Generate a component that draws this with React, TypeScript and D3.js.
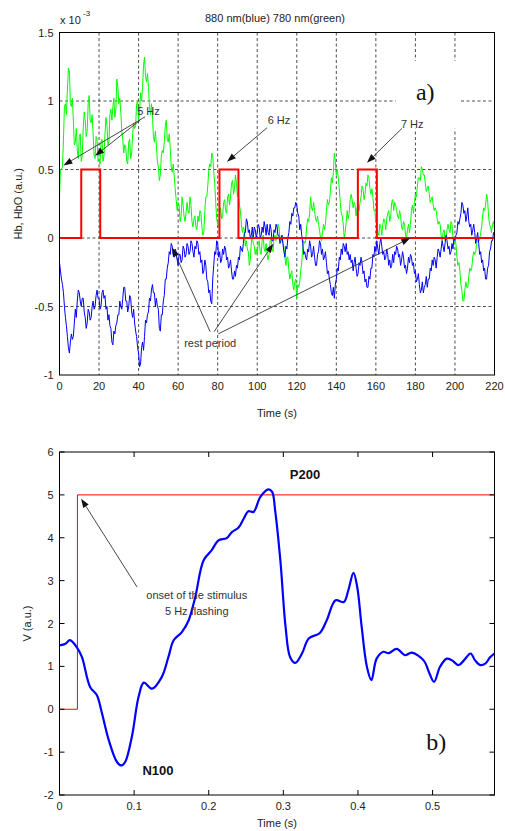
import React from "react";
import * as d3 from "d3";

const W = 505;
const H = 831;

// ---- panel a) NIRS traces, 2 samples per second, values x 1e-3 ----
const timeTicks = [0, 20, 40, 60, 80, 100, 120, 140, 160, 180, 200, 220];
const hbTicks = [-1, -0.5, 0, 0.5, 1, 1.5];
const sampleStep = 0.5; // s
const stimBlocks = [
  [11, 20.6],
  [80.9, 90.5],
  [150.9, 160.5],
];
const stimLevel = 0.5;

// 780 nm (green), one row = 10 s
const green780 = [
  0.30, 0.50, 0.50, 0.52, 0.72, 0.96, 0.98, 0.90, 1.08, 1.24, 1.22, 0.98, 0.96, 1.02, 0.86, 0.68, 0.70, 0.80, 0.64, 0.58,
  0.74, 0.76, 0.56, 0.60, 0.80, 0.92, 0.86, 0.74, 0.78, 0.98, 1.04, 0.86, 0.84, 0.90, 0.76, 0.60, 0.58, 0.74, 0.72, 0.56,
  0.58, 0.54, 0.70, 0.72, 0.56, 0.60, 0.76, 0.88, 0.82, 0.68, 0.70, 0.90, 0.94, 0.86, 0.96, 1.02, 0.88, 0.94, 1.16, 1.10,
  0.98, 1.02, 0.92, 0.78, 0.72, 0.62, 0.68, 0.66, 0.56, 0.54, 0.70, 0.72, 0.58, 0.62, 0.76, 0.84, 0.80, 0.82, 0.98, 1.00,
  0.86, 0.92, 1.06, 1.00, 1.10, 1.26, 1.32, 1.18, 1.14, 1.20, 1.10, 0.96, 0.90, 0.98, 0.90, 0.74, 0.70, 0.78, 0.68, 0.56,
  0.52, 0.42, 0.46, 0.60, 0.64, 0.62, 0.70, 0.82, 0.86, 0.72, 0.70, 0.76, 0.66, 0.52, 0.48, 0.54, 0.46, 0.36, 0.28, 0.20,
  0.26, 0.24, 0.12, 0.16, 0.30, 0.24, 0.16, 0.12, 0.18, 0.26, 0.20, 0.18, 0.30, 0.24, 0.12, 0.08, 0.14, 0.16, 0.08, 0.06,
  0.16, 0.12, 0.20, 0.18, 0.08, 0.02, 0.04, 0.20, 0.30, 0.30, 0.38, 0.50, 0.54, 0.52, 0.62, 0.60, 0.48, 0.40, 0.26, 0.14,
  0.10, 0.08, 0.18, 0.22, 0.14, 0.16, 0.26, 0.28, 0.20, 0.18, 0.30, 0.32, 0.24, 0.30, 0.40, 0.42, 0.32, 0.36, 0.46, 0.40,
  0.30, 0.32, 0.24, 0.20, 0.10, 0.04, 0.08, 0.06, -0.06, -0.02, -0.08, -0.10, -0.20, -0.16, -0.04, 0.02, -0.04, -0.06, -0.12, -0.08,
  -0.12, -0.04, -0.02, -0.10, -0.12, -0.02, 0.02, -0.08, -0.10, -0.04, -0.12, -0.16, -0.12, -0.02, 0.00, -0.08, -0.10, 0.00, 0.02, -0.02,
  0.02, 0.10, 0.08, 0.00, -0.02, 0.02, -0.04, -0.06, -0.14, -0.20, -0.14, -0.14, -0.24, -0.30, -0.26, -0.24, -0.34, -0.38, -0.32, -0.30,
  -0.44, -0.34, -0.36, -0.32, -0.24, -0.18, -0.08, -0.02, -0.04, -0.02, 0.08, 0.14, 0.12, 0.18, 0.30, 0.22, 0.20, 0.26, 0.20, 0.14,
  0.12, 0.16, 0.10, 0.06, 0.00, -0.02, 0.04, 0.10, 0.06, 0.10, 0.20, 0.28, 0.24, 0.26, 0.34, 0.44, 0.40, 0.48, 0.62, 0.56,
  0.46, 0.50, 0.44, 0.36, 0.26, 0.18, 0.16, 0.10, 0.00, 0.04, 0.12, 0.20, 0.14, 0.18, 0.28, 0.32, 0.28, 0.22, 0.26, 0.24,
  0.16, 0.22, 0.24, 0.20, 0.26, 0.30, 0.38, 0.36, 0.28, 0.32, 0.40, 0.38, 0.46, 0.44, 0.36, 0.32, 0.36, 0.30, 0.20, 0.20,
  0.12, 0.10, 0.04, 0.02, 0.10, 0.08, 0.02, 0.10, 0.14, 0.12, 0.06, 0.14, 0.18, 0.20, 0.12, 0.16, 0.26, 0.28, 0.20, 0.26,
  0.24, 0.20, 0.16, 0.14, 0.20, 0.16, 0.08, 0.06, 0.12, 0.10, 0.02, 0.00, 0.06, 0.10, 0.04, 0.10, 0.20, 0.24, 0.18, 0.26,
  0.32, 0.30, 0.38, 0.44, 0.44, 0.42, 0.52, 0.50, 0.46, 0.46, 0.40, 0.34, 0.36, 0.38, 0.32, 0.26, 0.28, 0.30, 0.24, 0.20,
  0.22, 0.20, 0.14, 0.10, 0.12, 0.10, 0.02, -0.02, 0.04, 0.06, -0.02, 0.00, 0.06, 0.10, 0.06, 0.04, 0.12, 0.10, 0.00, -0.04,
  -0.02, -0.04, -0.14, -0.20, -0.18, -0.24, -0.34, -0.38, -0.46, -0.46, -0.38, -0.32, -0.36, -0.36, -0.28, -0.22, -0.24, -0.22, -0.14, -0.10,
  -0.12, -0.10, -0.04, 0.00, 0.00, -0.02, 0.04, 0.08, 0.16, 0.22, 0.20, 0.24, 0.32, 0.28, 0.16, 0.10, 0.08, 0.04, 0.10, 0.12,
  0.06,
];

// 880 nm (blue), one row = 10 s
const blue880 = [
  -0.18, -0.24, -0.30, -0.34, -0.40, -0.50, -0.58, -0.64, -0.72, -0.80, -0.84, -0.76, -0.70, -0.74, -0.72, -0.62, -0.52, -0.58, -0.46, -0.38,
  -0.40, -0.46, -0.50, -0.44, -0.44, -0.54, -0.58, -0.66, -0.62, -0.52, -0.54, -0.60, -0.58, -0.50, -0.46, -0.52, -0.50, -0.42, -0.38, -0.44,
  -0.44, -0.52, -0.50, -0.40, -0.38, -0.44, -0.42, -0.52, -0.50, -0.60, -0.56, -0.64, -0.66, -0.76, -0.78, -0.68, -0.70, -0.64, -0.62, -0.56,
  -0.56, -0.46, -0.50, -0.52, -0.44, -0.36, -0.36, -0.46, -0.46, -0.54, -0.50, -0.42, -0.44, -0.54, -0.58, -0.52, -0.62, -0.68, -0.72, -0.80,
  -0.84, -0.94, -0.92, -0.80, -0.76, -0.82, -0.72, -0.60, -0.62, -0.56, -0.54, -0.44, -0.46, -0.38, -0.34, -0.40, -0.40, -0.50, -0.44, -0.50,
  -0.52, -0.66, -0.68, -0.56, -0.56, -0.46, -0.42, -0.30, -0.30, -0.22, -0.18, -0.10, -0.12, -0.04, -0.06, -0.12, -0.14, -0.08, -0.10, -0.16,
  -0.20, -0.12, -0.12, -0.18, -0.16, -0.06, -0.08, -0.14, -0.12, -0.04, -0.06, -0.12, -0.10, -0.02, -0.04, -0.10, -0.14, -0.06, -0.08, -0.02,
  -0.04, -0.12, -0.10, -0.18, -0.16, -0.26, -0.24, -0.16, -0.20, -0.30, -0.32, -0.40, -0.38, -0.46, -0.48, -0.30, -0.20, -0.10, -0.12, -0.02,
  -0.04, -0.14, -0.10, -0.18, -0.16, -0.08, -0.12, -0.06, -0.08, -0.16, -0.14, -0.22, -0.20, -0.16, -0.24, -0.30, -0.30, -0.24, -0.28, -0.20,
  -0.22, -0.14, -0.16, -0.06, -0.08, -0.10, -0.04, 0.04, 0.04, 0.14, 0.12, 0.04, 0.06, 0.00, 0.02, 0.08, 0.00, 0.08, 0.06, 0.00,
  0.04, 0.10, 0.08, 0.00, 0.02, 0.08, 0.04, 0.12, 0.08, 0.02, 0.10, 0.04, 0.02, 0.10, 0.06, -0.02, -0.02, 0.06, 0.04, 0.10,
  0.08, 0.02, 0.02, -0.04, -0.02, 0.02, -0.04, -0.10, -0.14, -0.06, -0.08, 0.00, 0.04, 0.12, 0.10, 0.18, 0.16, 0.22, 0.22, 0.26,
  0.24, 0.18, 0.16, 0.06, 0.10, 0.02, -0.04, -0.12, -0.10, -0.14, -0.16, -0.08, -0.10, -0.02, -0.06, -0.14, -0.12, -0.06, -0.14, -0.20,
  -0.20, -0.12, -0.10, -0.02, -0.04, -0.12, -0.08, -0.16, -0.14, -0.10, -0.18, -0.26, -0.24, -0.30, -0.34, -0.40, -0.42, -0.36, -0.44, -0.34,
  -0.30, -0.22, -0.24, -0.14, -0.16, -0.08, -0.12, -0.04, -0.06, -0.10, -0.04, -0.12, -0.10, -0.16, -0.12, -0.18, -0.16, -0.24, -0.18, -0.14,
  -0.22, -0.28, -0.26, -0.18, -0.20, -0.14, -0.18, -0.26, -0.24, -0.32, -0.30, -0.36, -0.36, -0.28, -0.30, -0.22, -0.22, -0.12, -0.14, -0.06,
  -0.10, -0.02, -0.08, -0.12, -0.04, 0.00, -0.06, -0.12, -0.10, -0.16, -0.14, -0.08, -0.12, -0.20, -0.16, -0.22, -0.20, -0.12, -0.18, -0.10,
  -0.12, -0.06, -0.08, -0.14, -0.12, -0.20, -0.16, -0.10, -0.14, -0.22, -0.20, -0.26, -0.22, -0.14, -0.18, -0.12, -0.14, -0.20, -0.18, -0.26,
  -0.24, -0.32, -0.30, -0.26, -0.34, -0.40, -0.38, -0.32, -0.40, -0.36, -0.34, -0.28, -0.36, -0.30, -0.30, -0.22, -0.24, -0.16, -0.20, -0.14,
  -0.16, -0.22, -0.14, -0.08, -0.10, -0.14, -0.08, -0.02, -0.06, -0.10, -0.04, 0.02, -0.02, -0.08, -0.06, -0.12, -0.10, -0.04, -0.08, 0.00,
  -0.02, 0.02, 0.04, 0.12, 0.10, 0.14, 0.18, 0.26, 0.24, 0.18, 0.20, 0.12, 0.16, 0.22, 0.12, 0.08, 0.10, 0.02, 0.06, 0.10,
  0.04, -0.04, 0.00, 0.04, -0.04, -0.12, -0.10, -0.18, -0.16, -0.24, -0.22, -0.30, -0.30, -0.22, -0.20, -0.10, -0.08, -0.02, -0.02, 0.04,
  0.02,
];

// ---- panel b) ERP ----
const erpTicksX = [0, 0.1, 0.2, 0.3, 0.4, 0.5];
const erpTicksY = [-2, -1, 0, 1, 2, 3, 4, 5, 6];
const erpT = [
  0, 0.008, 0.014, 0.023, 0.030, 0.041, 0.050, 0.057, 0.066, 0.077,
  0.083, 0.088, 0.097, 0.106, 0.113, 0.124, 0.137, 0.146, 0.153, 0.164,
  0.173, 0.182, 0.193, 0.204, 0.213, 0.224, 0.231, 0.240, 0.247, 0.253,
  0.260, 0.269, 0.280, 0.285, 0.289, 0.296, 0.303, 0.309, 0.316, 0.325,
  0.334, 0.349, 0.358, 0.370, 0.381, 0.387, 0.394, 0.399, 0.405, 0.412,
  0.418, 0.425, 0.434, 0.441, 0.452, 0.463, 0.472, 0.488, 0.496, 0.502,
  0.510, 0.519, 0.526, 0.535, 0.542, 0.551, 0.557, 0.564, 0.571, 0.577,
  0.583,
];
const erpV = [
  1.49, 1.53, 1.61, 1.45, 1.22, 0.52, 0.33, -0.10, -0.72, -1.23,
  -1.31, -1.23, -0.64, 0.29, 0.62, 0.48, 0.75, 1.22, 1.61, 1.80,
  2.07, 2.62, 3.47, 3.71, 3.94, 3.99, 4.13, 4.24, 4.45, 4.62,
  4.60, 4.95, 5.13, 5.07, 4.64, 3.47, 1.92, 1.22, 1.08, 1.30,
  1.65, 1.78, 2.07, 2.54, 2.50, 2.77, 3.18, 2.85, 1.92, 0.99,
  0.68, 1.18, 1.34, 1.31, 1.41, 1.26, 1.32, 1.14, 0.83, 0.64,
  0.99, 1.18, 1.14, 1.03, 1.14, 1.30, 1.14, 1.03, 1.07, 1.21,
  1.30,
];
const onsetT = 0.024;
const onsetLevel = 5;

const FONT = "'Liberation Sans', Arial, Helvetica, sans-serif";
const SERIF = "'Liberation Serif', 'Times New Roman', serif";
const TXT = "#222";

// plot frames
const L = 59.5;
const R = 494.5;
const A_TOP = 32.5;
const A_BOT = 375;
const B_TOP = 452;
const B_BOT = 795;

const xa = d3.scaleLinear().domain([0, 220]).range([L, R]);
const ya = d3.scaleLinear().domain([-1, 1.5]).range([A_BOT, A_TOP]);
const xb = d3.scaleLinear().domain([0, 0.583]).range([L, R]);
const yb = d3.scaleLinear().domain([-2, 6]).range([B_BOT, B_TOP]);

const lineA = d3
  .line<number>()
  .x((_, i) => xa(i * sampleStep))
  .y((d) => ya(d));

const stimPts: [number, number][] = [[0, 0]];
stimBlocks.forEach(([s, e]) => {
  stimPts.push([s, 0], [s, stimLevel], [e, stimLevel], [e, 0]);
});
stimPts.push([220, 0]);
const stimLine = d3
  .line<[number, number]>()
  .x((d) => xa(d[0]))
  .y((d) => ya(d[1]));

const erpLine = d3
  .line<number>()
  .x((_, i) => xb(erpT[i]))
  .y((d) => yb(d))
  .curve(d3.curveCatmullRom.alpha(0.5));

const onsetPts: [number, number][] = [
  [0, 0],
  [onsetT, 0],
  [onsetT, onsetLevel],
  [0.583, onsetLevel],
];
const onsetLine = d3
  .line<[number, number]>()
  .x((d) => xb(d[0]))
  .y((d) => yb(d[1]));

const fmt = (v: number) => (v === 0 ? "0" : String(v));

// annotation arrows, in data coordinates [x1,y1,x2,y2]
const arrowsA = [
  [43.3, 0.885, 2, 0.53],
  [40.8, 0.86, 18, 0.6],
  [105, 0.805, 84.7, 0.557],
  [173.2, 0.8, 155.5, 0.55],
  [76.2, -0.684, 57, -0.07],
  [78.2, -0.684, 108.1, -0.042],
  [80.3, -0.7, 177.4, 0],
];

function Arrow({ x1, y1, x2, y2 }: { x1: number; y1: number; x2: number; y2: number }) {
  const ang = Math.atan2(y2 - y1, x2 - x1);
  const len = 9;
  const wid = 3.2;
  const bx = x2 - len * Math.cos(ang);
  const by = y2 - len * Math.sin(ang);
  const px = -Math.sin(ang) * wid;
  const py = Math.cos(ang) * wid;
  return (
    <g>
      <line x1={x1} y1={y1} x2={bx} y2={by} stroke="#333" strokeWidth={0.9} />
      <path d={`M${x2},${y2}L${bx + px},${by + py}L${bx - px},${by - py}Z`} fill="#111" />
    </g>
  );
}

export default function App() {
  return (
    <svg
      width={W}
      height={H}
      style={{ position: "absolute", left: 0, top: 0, background: "#fff" }}
      fontFamily={FONT}
    >
      <defs>
        <clipPath id="clipA">
          <rect x={L} y={A_TOP} width={R - L} height={A_BOT - A_TOP} />
        </clipPath>
        <clipPath id="clipB">
          <rect x={L} y={B_TOP} width={R - L} height={B_BOT - B_TOP} />
        </clipPath>
      </defs>
      <rect x={0} y={0} width={W} height={H} fill="#fff" />

      {/* ---------- panel a ---------- */}
      <text x={275} y={22} fontSize={11} textAnchor="middle" fill={TXT}>
        880 nm(blue) 780 nm(green)
      </text>
      <text x={60} y={24} fontSize={11} fill={TXT}>
        x 10
      </text>
      <text x={83} y={16} fontSize={8} fill={TXT}>
        -3
      </text>
      <g stroke="#222" strokeWidth={0.8} strokeDasharray="3,2.5">
        {timeTicks.slice(1, -1).map((t) => (
          <line key={t} x1={xa(t)} x2={xa(t)} y1={A_TOP} y2={A_BOT} />
        ))}
        {hbTicks.slice(1, -1).map((v) => (
          <line key={v} x1={L} x2={R} y1={ya(v)} y2={ya(v)} />
        ))}
      </g>
      <g clipPath="url(#clipA)">
        <path d={lineA(green780) || ""} fill="none" stroke="#00ff00" strokeWidth={1} />
        <path d={lineA(blue880) || ""} fill="none" stroke="#0000ff" strokeWidth={1} />
        <path d={stimLine(stimPts) || ""} fill="none" stroke="#ff0000" strokeWidth={2} />
      </g>
      <rect x={L} y={A_TOP} width={R - L} height={A_BOT - A_TOP} fill="none" stroke="#000" strokeWidth={1} />
      {timeTicks.map((t) => (
        <text key={t} x={xa(t)} y={A_BOT + 15} fontSize={11} textAnchor="middle" fill={TXT}>
          {t}
        </text>
      ))}
      {hbTicks.map((v) => (
        <text key={v} x={L - 6} y={ya(v) + 4} fontSize={11} textAnchor="end" fill={TXT}>
          {fmt(v)}
        </text>
      ))}
      <text x={xa(110)} y={417} fontSize={11} textAnchor="middle" fill={TXT}>
        Time (s)
      </text>
      <text
        transform={`translate(22,${(A_TOP + A_BOT) / 2}) rotate(-90)`}
        fontSize={11}
        textAnchor="middle"
        fill={TXT}
      >
        Hb, HbO (a.u.)
      </text>
      <rect x={xa(170)} y={ya(1.294)} width={xa(202.7) - xa(170)} height={ya(0.798) - ya(1.294)} fill="#fff" />
      <text x={xa(185)} y={ya(1.01)} fontSize={24} textAnchor="middle" fontFamily={SERIF} fill="#111">
        a)
      </text>
      <text x={xa(45)} y={ya(0.9)} fontSize={11} textAnchor="middle" fill="#333">5 Hz</text>
      <text x={xa(111)} y={ya(0.834)} fontSize={11} textAnchor="middle" fill="#333">6 Hz</text>
      <text x={xa(178.4)} y={ya(0.805)} fontSize={11} textAnchor="middle" fill="#333">7 Hz</text>
      <text x={xa(76.2)} y={ya(-0.795)} fontSize={11} textAnchor="middle" fill="#333">rest period</text>
      {arrowsA.map((a, i) => (
        <Arrow key={i} x1={xa(a[0])} y1={ya(a[1])} x2={xa(a[2])} y2={ya(a[3])} />
      ))}

      {/* ---------- panel b ---------- */}
      <g clipPath="url(#clipB)">
        <path d={onsetLine(onsetPts) || ""} fill="none" stroke="#ff0000" strokeWidth={1} />
        <path d={erpLine(erpV) || ""} fill="none" stroke="#0000ff" strokeWidth={2.2} strokeLinejoin="round" />
      </g>
      <rect x={L} y={B_TOP} width={R - L} height={B_BOT - B_TOP} fill="none" stroke="#000" strokeWidth={1} />
      <g stroke="#000" strokeWidth={1}>
        {erpTicksX.map((t) => (
          <g key={t}>
            <line x1={xb(t)} x2={xb(t)} y1={B_BOT} y2={B_BOT - 5} />
            <line x1={xb(t)} x2={xb(t)} y1={B_TOP} y2={B_TOP + 5} />
          </g>
        ))}
        {erpTicksY.map((v) => (
          <g key={v}>
            <line x1={L} x2={L + 5} y1={yb(v)} y2={yb(v)} />
            <line x1={R} x2={R - 5} y1={yb(v)} y2={yb(v)} />
          </g>
        ))}
      </g>
      {erpTicksX.map((t) => (
        <text key={t} x={xb(t)} y={B_BOT + 15} fontSize={11} textAnchor="middle" fill={TXT}>
          {fmt(t)}
        </text>
      ))}
      {erpTicksY.map((v) => (
        <text key={v} x={L - 6} y={yb(v) + 4} fontSize={11} textAnchor="end" fill={TXT}>
          {fmt(v)}
        </text>
      ))}
      <text x={xb(0.2915)} y={827} fontSize={11} textAnchor="middle" fill={TXT}>
        Time (s)
      </text>
      <text
        transform={`translate(31,${(B_TOP + B_BOT) / 2}) rotate(-90)`}
        fontSize={11}
        textAnchor="middle"
        fill={TXT}
      >
        V (a.u.)
      </text>
      <text x={xb(0.329)} y={yb(5.38)} fontSize={13} fontWeight="bold" textAnchor="middle" fill="#111">
        P200
      </text>
      <text x={xb(0.132)} y={yb(-1.54)} fontSize={13} fontWeight="bold" textAnchor="middle" fill="#111">
        N100
      </text>
      <text x={xb(0.184)} y={yb(2.56)} fontSize={11} textAnchor="middle" fill="#333">
        onset of the stimulus
      </text>
      <text x={xb(0.184)} y={yb(2.19)} fontSize={11} textAnchor="middle" fill="#333">
        5 Hz flashing
      </text>
      <Arrow x1={xb(0.104)} y1={yb(2.85)} x2={xb(0.029)} y2={yb(4.91)} />
      <rect x={xb(0.463)} y={yb(-0.02)} width={xb(0.564) - xb(0.463)} height={yb(-1.72) - yb(-0.02)} fill="#fff" />
      <text x={xb(0.505)} y={yb(-0.96)} fontSize={24} textAnchor="middle" fontFamily={SERIF} fill="#111">
        b)
      </text>
    </svg>
  );
}
